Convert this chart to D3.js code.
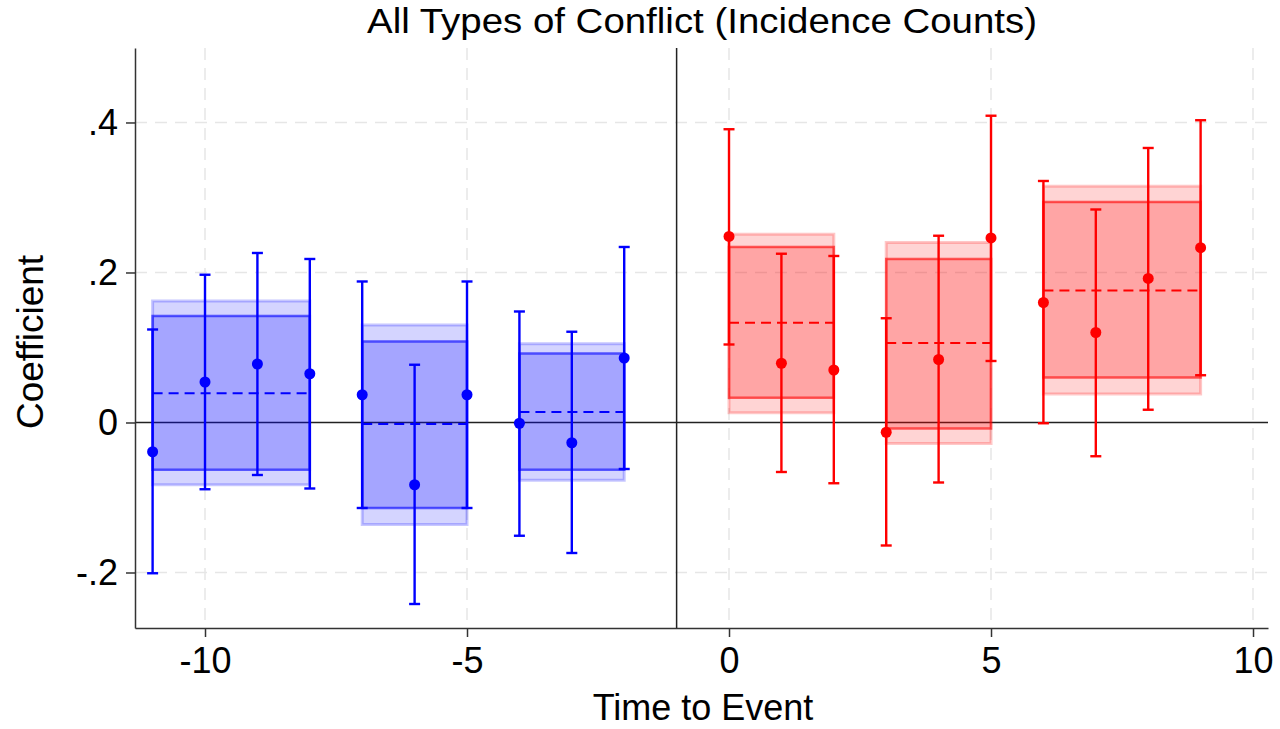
<!DOCTYPE html>
<html>
<head>
<meta charset="utf-8">
<script src="https://cdn.jsdelivr.net/npm/d3@7"></script>
<style>
    body { margin: 0; background: #fff; }
    svg { display: block; font-family: "Liberation Sans", Arial, Helvetica, sans-serif; }
</style>
</head>
<body>
<div id="chart"></div>
<script>
// Pre-event estimates (blue)
const preX = [-11, -10, -9, -8, -7, -6, -5, -4, -3, -2];
const preCoef = [-0.039, 0.054, 0.078, 0.065, 0.037, -0.083, 0.037, -0.001, -0.027, 0.086];
const preLo = [-0.201, -0.089, -0.070, -0.088, -0.114, -0.242, -0.114, -0.151, -0.174, -0.062];
const preHi = [0.124, 0.197, 0.226, 0.218, 0.188, 0.077, 0.188, 0.148, 0.121, 0.234];

// Post-event estimates (red)
const postX = [0, 1, 2, 3, 4, 5, 6, 7, 8, 9];
const postCoef = [0.248, 0.079, 0.070, -0.013, 0.084, 0.246, 0.160, 0.120, 0.192, 0.233];
const postLo = [0.104, -0.066, -0.081, -0.164, -0.080, 0.082, -0.001, -0.045, 0.017, 0.063];
const postHi = [0.391, 0.225, 0.222, 0.139, 0.249, 0.409, 0.322, 0.284, 0.366, 0.403];

// Pooled bins: start, end, mean, inner band, outer band
const binStart = [-11, -7, -4, 0, 3, 6];
const binEnd = [-8, -5, -2, 2, 5, 9];
const binMean = [0.039, -0.002, 0.014, 0.133, 0.106, 0.176];
const binInnerLo = [-0.063, -0.114, -0.063, 0.033, -0.008, 0.060];
const binInnerHi = [0.142, 0.108, 0.092, 0.234, 0.218, 0.294];
const binOuterLo = [-0.083, -0.136, -0.077, 0.013, -0.028, 0.038];
const binOuterHi = [0.162, 0.130, 0.105, 0.251, 0.240, 0.315];
const binSide = ['pre', 'pre', 'pre', 'post', 'post', 'post'];

// Axis ticks
const xTicks = [-10, -5, 0, 5, 10];
const yTicks = [-0.2, 0, 0.2, 0.4];
const yGrid = [-0.2, 0.2, 0.4];

const colors = { pre: 'rgb(0,0,255)', post: 'rgb(255,0,0)' };

const width = 1280;
const height = 729;
const margin = { top: 48, right: 12, bottom: 101, left: 135 };

const svg = d3.select('#chart')
    .append('svg')
    .attr('width', width)
    .attr('height', height);

const x = d3.scaleLinear()
    .domain([-11.336, 10.286])
    .range([margin.left, width - margin.right]);

const y = d3.scaleLinear()
    .domain([-0.274, 0.4993])
    .range([height - margin.bottom, margin.top]);

// Grid
svg.append('g')
    .selectAll('line')
    .data(yGrid)
    .enter()
    .append('line')
    .attr('x1', margin.left)
    .attr('x2', width - margin.right)
    .attr('y1', d => y(d))
    .attr('y2', d => y(d))
    .attr('stroke', '#e6e6e6')
    .attr('stroke-width', 1.5)
    .attr('stroke-dasharray', '12,8');

svg.append('g')
    .selectAll('line')
    .data(xTicks)
    .enter()
    .append('line')
    .attr('x1', d => x(d))
    .attr('x2', d => x(d))
    .attr('y1', margin.top)
    .attr('y2', height - margin.bottom)
    .attr('stroke', '#e6e6e6')
    .attr('stroke-width', 1.5)
    .attr('stroke-dasharray', '12,8');

// Reference lines
svg.append('line')
    .attr('x1', margin.left)
    .attr('x2', width - margin.right)
    .attr('y1', y(0))
    .attr('y2', y(0))
    .attr('stroke', '#222')
    .attr('stroke-width', 1.5);

svg.append('line')
    .attr('x1', x(-1))
    .attr('x2', x(-1))
    .attr('y1', margin.top)
    .attr('y2', height - margin.bottom)
    .attr('stroke', '#222')
    .attr('stroke-width', 1.5);

// Bins
const bins = binStart.map((s, i) => ({
    start: s,
    end: binEnd[i],
    mean: binMean[i],
    innerLo: binInnerLo[i],
    innerHi: binInnerHi[i],
    outerLo: binOuterLo[i],
    outerHi: binOuterHi[i],
    color: colors[binSide[i]]
}));

const binG = svg.append('g');

binG.selectAll('.outer')
    .data(bins)
    .enter()
    .append('rect')
    .attr('class', 'outer')
    .attr('x', d => x(d.start))
    .attr('width', d => x(d.end) - x(d.start))
    .attr('y', d => y(d.outerHi))
    .attr('height', d => y(d.outerLo) - y(d.outerHi))
    .attr('fill', d => d.color)
    .attr('fill-opacity', 0.17)
    .attr('stroke', d => d.color)
    .attr('stroke-opacity', 0.22)
    .attr('stroke-width', 3);

binG.selectAll('.inner')
    .data(bins)
    .enter()
    .append('rect')
    .attr('class', 'inner')
    .attr('x', d => x(d.start))
    .attr('width', d => x(d.end) - x(d.start))
    .attr('y', d => y(d.innerHi))
    .attr('height', d => y(d.innerLo) - y(d.innerHi))
    .attr('fill', d => d.color)
    .attr('fill-opacity', 0.22)
    .attr('stroke', d => d.color)
    .attr('stroke-opacity', 0.6)
    .attr('stroke-width', 2.5);

binG.selectAll('.mean')
    .data(bins)
    .enter()
    .append('line')
    .attr('class', 'mean')
    .attr('x1', d => x(d.start))
    .attr('x2', d => x(d.end))
    .attr('y1', d => y(d.mean))
    .attr('y2', d => y(d.mean))
    .attr('stroke', d => d.color)
    .attr('stroke-width', 2)
    .attr('stroke-dasharray', '10,6');

// Point estimates with CIs
function drawSeries(xs, coef, lo, hi, color) {
    const data = xs.map((t, i) => ({ t, coef: coef[i], lo: lo[i], hi: hi[i] }));
    const g = svg.append('g');
    const cap = 5.5;

    g.selectAll('.ci')
        .data(data)
        .enter()
        .append('line')
        .attr('x1', d => x(d.t))
        .attr('x2', d => x(d.t))
        .attr('y1', d => y(d.lo))
        .attr('y2', d => y(d.hi))
        .attr('stroke', color)
        .attr('stroke-width', 2.4);

    ['lo', 'hi'].forEach(k => {
        g.selectAll('.cap-' + k)
            .data(data)
            .enter()
            .append('line')
            .attr('x1', d => x(d.t) - cap)
            .attr('x2', d => x(d.t) + cap)
            .attr('y1', d => y(d[k]))
            .attr('y2', d => y(d[k]))
            .attr('stroke', color)
            .attr('stroke-width', 2.4);
    });

    g.selectAll('circle')
        .data(data)
        .enter()
        .append('circle')
        .attr('cx', d => x(d.t))
        .attr('cy', d => y(d.coef))
        .attr('r', 5.5)
        .attr('fill', color);
}

drawSeries(preX, preCoef, preLo, preHi, colors.pre);
drawSeries(postX, postCoef, postLo, postHi, colors.post);

// Axes (plain hyphen for negatives, Stata-style ".2")
const fmtX = d => String(d);
const fmtY = d => d === 0 ? '0' : d3.format('.1f')(d).replace('\u2212', '-').replace('0.', '.');

const xAxis = svg.append('g')
    .attr('transform', `translate(0, ${height - margin.bottom})`)
    .call(d3.axisBottom(x).tickValues(xTicks).tickSize(9).tickPadding(10).tickSizeOuter(0).tickFormat(fmtX));

const yAxis = svg.append('g')
    .attr('transform', `translate(${margin.left}, 0)`)
    .call(d3.axisLeft(y).tickValues(yTicks).tickSize(9).tickPadding(8).tickSizeOuter(0).tickFormat(fmtY));

[xAxis, yAxis].forEach(a => {
    a.selectAll('.domain').attr('stroke', '#333').attr('stroke-width', 1.5);
    a.selectAll('.tick line').attr('stroke', '#333').attr('stroke-width', 1.5);
    a.selectAll('.tick text')
        .attr('fill', '#000')
        .style('font-size', '36px')
        .style('font-family', '"Liberation Sans", Arial, sans-serif');
});

// Titles
svg.append('text')
    .attr('x', 702)
    .attr('y', 33)
    .attr('text-anchor', 'middle')
    .attr('textLength', 670)
    .attr('lengthAdjust', 'spacingAndGlyphs')
    .style('font-family', '"Liberation Sans Narrow", "Liberation Sans", Arial, sans-serif')
    .style('font-size', '35px')
    .text('All Types of Conflict (Incidence Counts)');

svg.append('text')
    .attr('x', 703)
    .attr('y', 720)
    .attr('text-anchor', 'middle')
    .style('font-size', '36px')
    .text('Time to Event');

svg.append('text')
    .attr('transform', 'translate(43, 342) rotate(-90)')
    .attr('text-anchor', 'middle')
    .style('font-size', '37px')
    .text('Coefficient');
</script>
</body>
</html>
